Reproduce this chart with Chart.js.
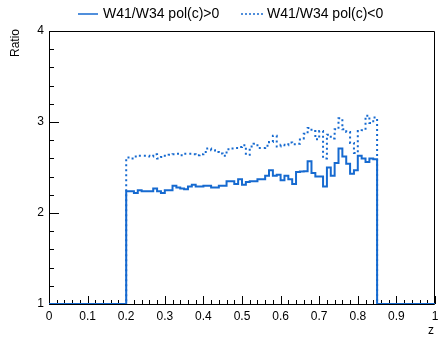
<!DOCTYPE html>
<html><head><meta charset="utf-8">
<script src="https://cdn.jsdelivr.net/npm/chart.js@4/dist/chart.umd.min.js"></script>
<style>html,body{margin:0;padding:0;background:#fff;}canvas{display:block;}</style>
</head><body>
<canvas id="c" width="438" height="337"></canvas>
<script>
// ---- data ----
const binLow = 0, binWidth = 0.01, nBins = 100;
const seriesNames = ["W41/W34 pol(c)>0", "W41/W34 pol(c)<0"];
const ratioPos = [
 1,1,1,1,1,1,1,1,1,1, 1,1,1,1,1,1,1,1,1,1,
 2.24,2.24,2.22,2.25,2.24,2.24,2.24,2.27,2.24,2.22,
 2.25,2.25,2.30,2.28,2.27,2.26,2.29,2.31,2.29,2.29,
 2.30,2.30,2.28,2.28,2.30,2.30,2.35,2.35,2.32,2.37,
 2.31,2.34,2.35,2.35,2.37,2.37,2.41,2.47,2.41,2.42,
 2.36,2.41,2.37,2.32,2.45,2.455,2.46,2.57,2.44,2.40,
 2.40,2.29,2.50,2.41,2.55,2.71,2.62,2.54,2.43,2.47,
 2.63,2.60,2.56,2.60,2.59,
 1,1,1,1,1,1,1,1,1,1,1,1,1,1,1
];
const ratioNeg = [
 1,1,1,1,1,1,1,1,1,1, 1,1,1,1,1,1,1,1,1,1,
 2.61,2.60,2.62,2.63,2.63,2.63,2.62,2.645,2.60,2.615,
 2.63,2.64,2.645,2.65,2.635,2.65,2.65,2.645,2.635,2.645,
 2.67,2.71,2.69,2.67,2.655,2.63,2.70,2.71,2.715,2.725,
 2.745,2.64,2.73,2.76,2.715,2.715,2.74,2.78,2.85,2.73,
 2.75,2.745,2.775,2.755,2.76,2.82,2.87,2.935,2.90,2.81,
 2.90,2.60,2.86,2.82,2.92,3.04,2.92,2.89,2.77,2.66,
 2.90,2.91,3.07,2.99,3.05,
 1,1,1,1,1,1,1,1,1,1,1,1,1,1,1
];
const xTickLabels = {0:"0",1:"1"};
const xTitle = "z", yTitle = "Ratio";

function toSteps(vals){
  const pts = [];
  vals.forEach((v,i)=>{ pts.push({x: binLow + i*binWidth, y: v}); });
  pts.push({x: binLow + nBins*binWidth, y: vals[vals.length-1]});
  return pts;
}
const BLUE = 'rgb(22,106,208)';
const FONT = '"Liberation Sans", Arial, sans-serif';

const decor = {
  id:'decor',
  beforeDatasetsDraw(chart){
    const {ctx, chartArea:a, scales:{x,y}} = chart;
    ctx.save();
    ctx.strokeStyle = '#000'; ctx.lineWidth = 1;
    ctx.beginPath();
    ctx.rect(Math.round(a.left)+0.5, Math.round(a.top)+0.5, Math.round(a.right-a.left)-1, Math.round(a.bottom-a.top));
    ctx.stroke();
    ctx.beginPath();
    for(let k=0;k<=50;k++){
      const v = k*0.02; const px = Math.round(x.getPixelForValue(v))+0.5;
      const len = (k%5===0)?8:4;
      ctx.moveTo(px, a.bottom); ctx.lineTo(px, a.bottom-len);
    }
    for(let k=0;k<=15;k++){
      const v = 1 + k*0.2; const py = Math.round(y.getPixelForValue(v))+0.5;
      const len = (k%5===0)?10:5;
      ctx.moveTo(a.left, py); ctx.lineTo(a.left+len, py);
    }
    ctx.stroke();
    ctx.restore();
  },
  afterDraw(chart){
    const {ctx} = chart;
    ctx.save();
    // legend
    ctx.lineWidth = 1.5; ctx.strokeStyle = BLUE;
    ctx.beginPath(); ctx.moveTo(78,14); ctx.lineTo(98,14); ctx.stroke();
    ctx.setLineDash([2,2]);
    ctx.beginPath(); ctx.moveTo(241,14); ctx.lineTo(263,14); ctx.stroke();
    ctx.setLineDash([]);
    ctx.fillStyle = '#000';
    ctx.font = '14px ' + FONT;
    ctx.textBaseline = 'middle'; ctx.textAlign = 'left';
    ctx.fillText(seriesNames[0], 103, 14);
    ctx.fillText(seriesNames[1], 267, 14);
    // axis titles
    ctx.font = '12px ' + FONT;
    ctx.textAlign = 'right'; ctx.textBaseline = 'alphabetic';
    ctx.fillText(xTitle, 434, 334);
    ctx.translate(19, 29);
    ctx.rotate(-Math.PI/2);
    ctx.textAlign = 'right';
    ctx.fillText(yTitle, 0, 0);
    ctx.restore();
  }
};

new Chart(document.getElementById('c'), {
  type:'line',
  data:{datasets:[
    {label:seriesNames[0], data:toSteps(ratioPos), stepped:'before', borderColor:BLUE, borderWidth:2, pointRadius:0, fill:false},
    {label:seriesNames[1], data:toSteps(ratioNeg), stepped:'before', borderColor:BLUE, borderWidth:2, borderDash:[2,3], pointRadius:0, fill:false}
  ]},
  options:{
    responsive:false, animation:false, devicePixelRatio:1,
    layout:{padding:{top:31,right:3,left:0,bottom:0}},
    plugins:{legend:{display:false}, tooltip:{enabled:false}},
    scales:{
      x:{type:'linear', min:0, max:1,
         grid:{display:false, drawTicks:false}, border:{display:false},
         afterFit(s){ s.height = 33; s.paddingLeft = 0; s.paddingRight = 0; },
         ticks:{stepSize:0.1, padding:5, color:'#000', font:{family:FONT, size:12}, maxRotation:0,
                callback:(v)=> (v in xTickLabels) ? xTickLabels[v] : v.toFixed(1)}},
      y:{type:'linear', min:1, max:4,
         grid:{display:false, drawTicks:false}, border:{display:false},
         afterFit(s){ s.width = 49; s.paddingTop = 0; s.paddingBottom = 0; },
         ticks:{stepSize:1, padding:5, color:'#000', font:{family:FONT, size:12},
                callback:(v)=> String(v)}}
    }
  },
  plugins:[decor]
});
</script>
</body></html>
